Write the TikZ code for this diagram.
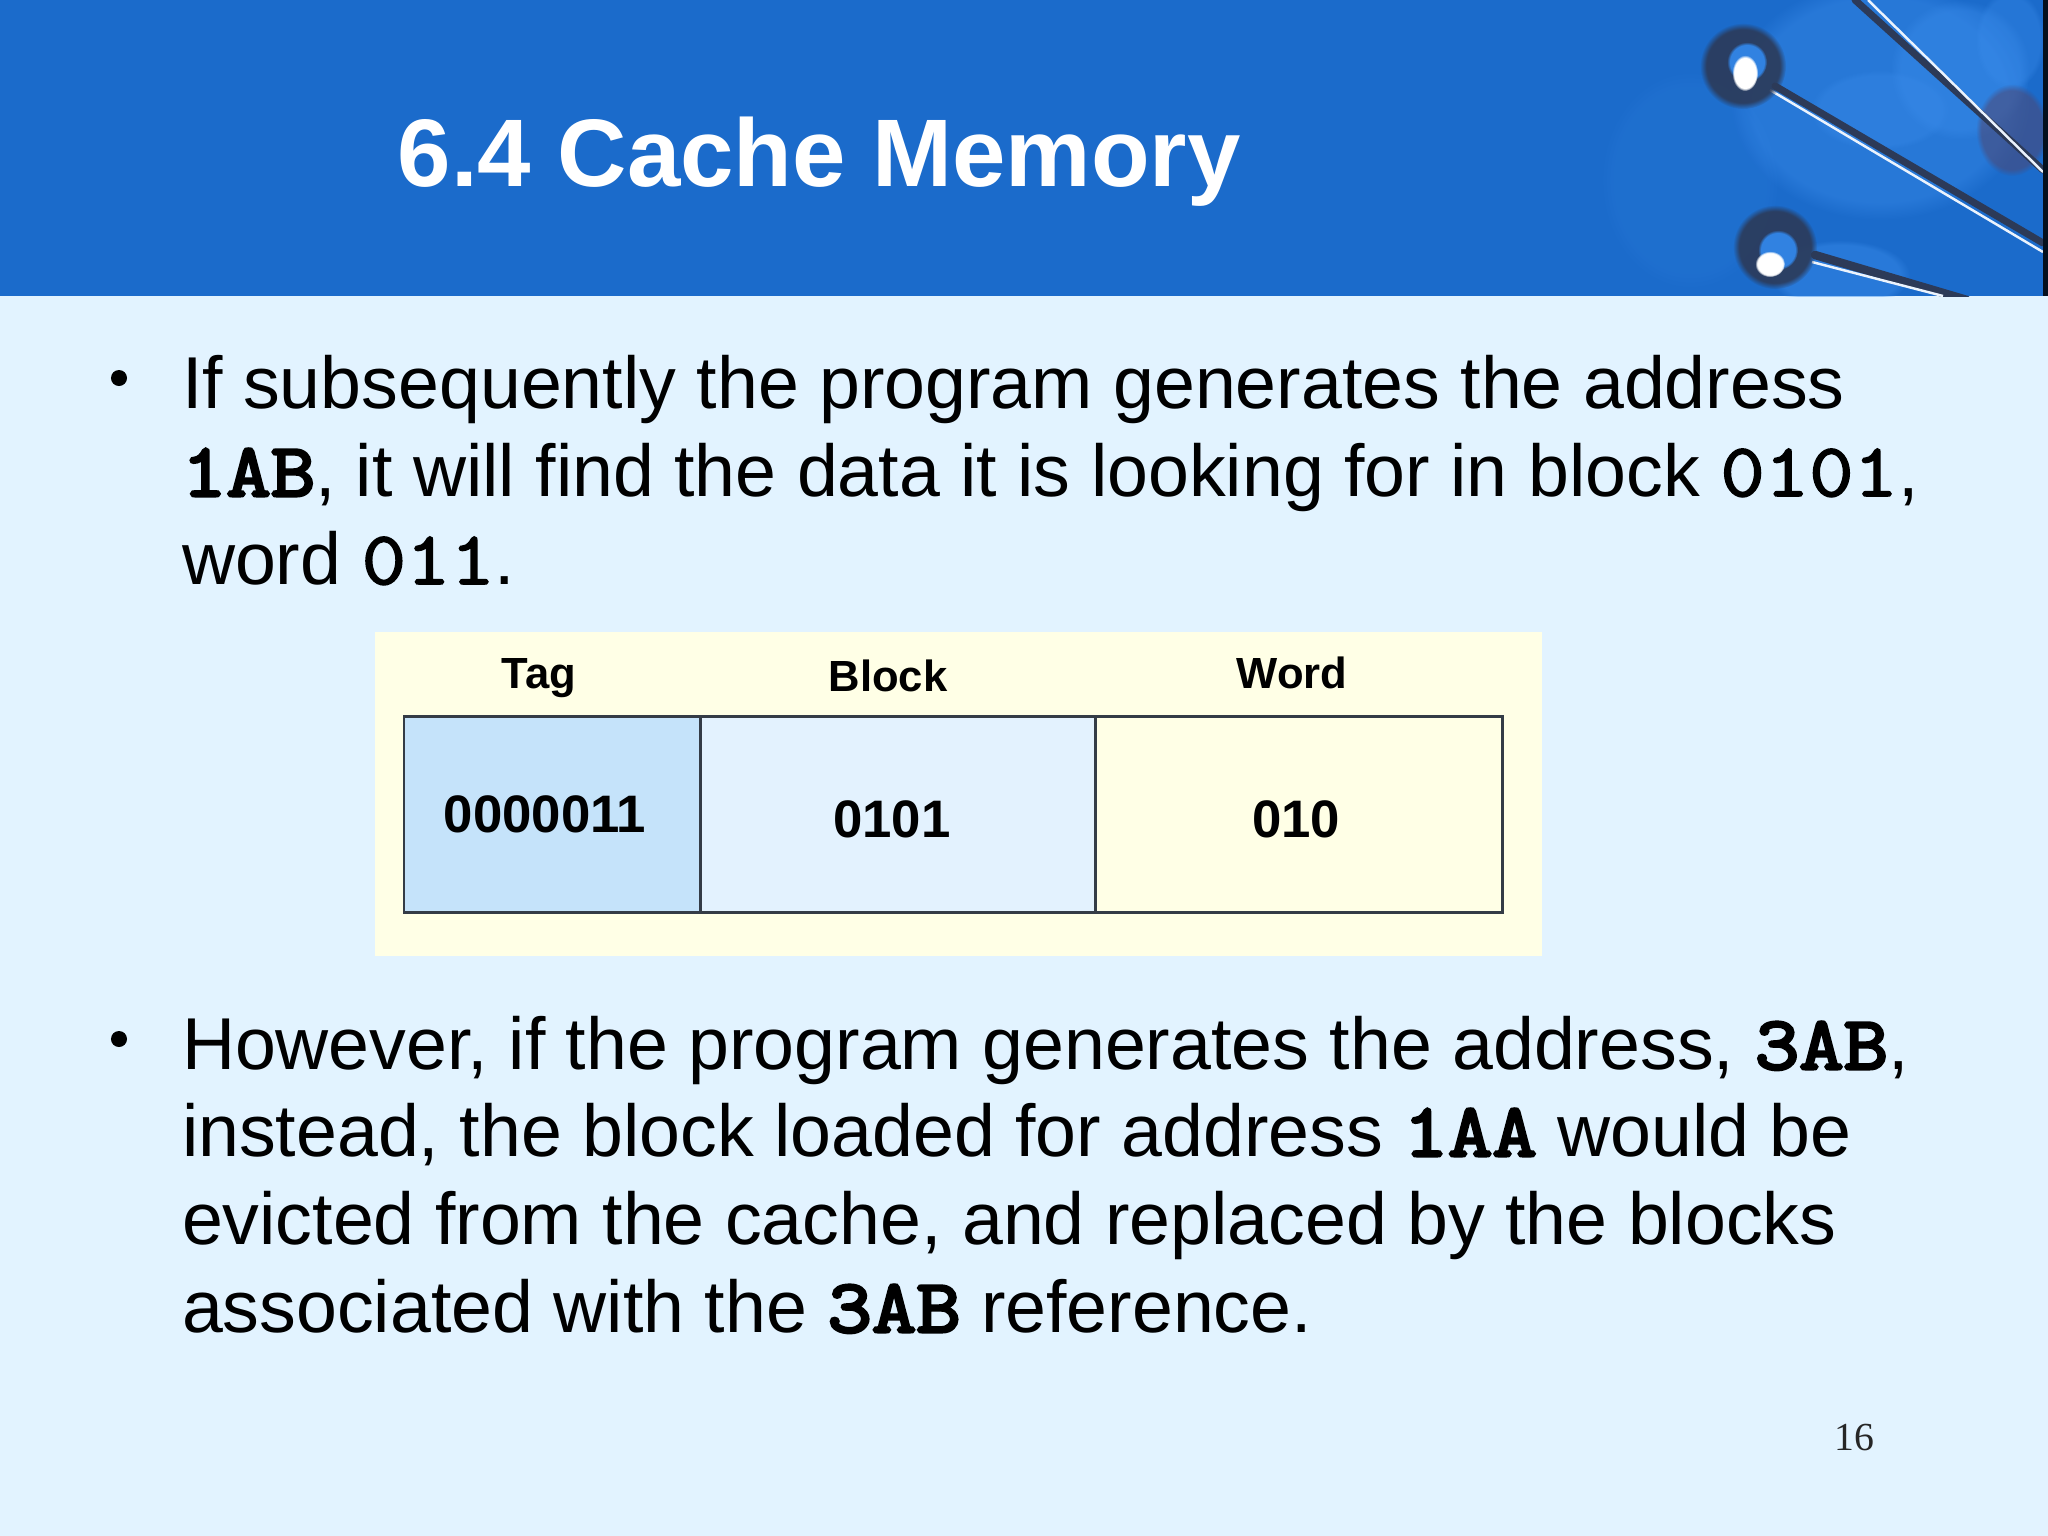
\documentclass[tikz,border=0pt]{standalone}
\usepackage{fontspec}
\setmainfont{Liberation Sans}
\newfontfamily\pagenumfont{Liberation Serif}
\newfontfamily\cdfont[FakeStretch=1.14,FakeBold=4]{Latin Modern Mono}
\newfontfamily\cdlightfont[FakeStretch=1.14,FakeBold=2.2]{Latin Modern Mono}
\usetikzlibrary{shadings,fadings}
\definecolor{pagebg}{HTML}{E2F3FF}
\definecolor{headblue}{HTML}{1B6BCB}
\definecolor{headlight}{HTML}{3A8CEB}
\definecolor{panelyellow}{HTML}{FFFFE6}
\definecolor{tagblue}{HTML}{C5E3FA}
\definecolor{blockblue}{HTML}{E3F2FE}
\definecolor{cellline}{HTML}{343C46}
\definecolor{pindark}{HTML}{2C3A58}
\definecolor{pinred}{HTML}{4F4670}
\newcommand{\cd}[1]{{\cdfont\fontsize{21.5pt}{26pt}\selectfont #1}}
\newcommand{\cdl}[1]{{\cdlightfont\fontsize{21.5pt}{26pt}\selectfont #1}}
\tikzset{
  x=0.01cm,y=-0.01cm,
  bodyline/.style={anchor=base west,inner sep=0pt,outer sep=0pt,text=black,font=\fontsize{20.9pt}{25pt}\selectfont},
  bulletmark/.style={circle,fill=black,inner sep=0pt,minimum size=0.16cm},
  headlabel/.style={anchor=base,inner sep=0pt,text=black,font=\fontsize{12.4pt}{14pt}\selectfont\bfseries},
  valuelabel/.style={anchor=base,inner sep=0pt,text=black,font=\fontsize{15pt}{18pt}\selectfont\bfseries},
  cellbox/.style={draw=cellline,line width=0.85pt,anchor=north west,inner sep=0pt,outer sep=0pt,minimum height=1.96cm},
  pinwhite/.style={draw=white!90!headlight,line width=0.7pt},
  pinshade/.style={draw=pindark,line width=2pt,line cap=round},
  blotch/.style={path fading=circle with fuzzy edge 15 percent},
}
\begin{document}
\begin{tikzpicture}
\useasboundingbox (0,0) rectangle (2048,1536);
\fill[pagebg] (0,0) rectangle (2048,1536);
% header
\fill[headblue] (0,0) rectangle (2048,296);
\begin{scope}
\clip (0,0) rectangle (2048,296);
\foreach \cx/\cy/\rx/\ry/\op in {1880/100/150/120/0.4,1880/110/70/40/0.35,1840/275/70/35/0.45,1960/70/70/70/0.4,2010/40/35/50/0.35,1690/180/90/110/0.12}{
  \fill[headlight,opacity=\op,blotch] (\cx,\cy) ellipse [x radius=\rx*0.01cm,y radius=\ry*0.01cm];
}
\fill[pinred,opacity=0.55,blotch] (2012,130) ellipse [x radius=0.36cm,y radius=0.46cm];
% pin shafts
\draw[pinshade] (1855,0) -- (2043,170);
\draw[pinwhite] (1868,0) -- (2043,172);
\draw[pinshade] (1775,86) -- (2043,243);
\draw[pinwhite] (1770,90) -- (2043,252);
\draw[pinshade,line width=2.4pt] (1815,255) -- (1967,300);
\draw[pinwhite] (1812,262) -- (1943,296);
\end{scope}
% pin heads
\fill[pindark,opacity=0.9,blotch] (1743,66) circle [radius=0.43cm];
\fill[headlight!70!headblue,blotch] (1747,62) circle [radius=0.2cm];
\fill[white,blotch] (1745,73) ellipse [x radius=0.13cm,y radius=0.18cm];
\fill[pindark,opacity=0.9,blotch] (1775,247) circle [radius=0.42cm];
\fill[headlight!70!headblue,blotch] (1778,250) circle [radius=0.2cm];
\fill[white,blotch] (1770,264) ellipse [x radius=0.15cm,y radius=0.13cm];
\fill[black!85!headblue] (2043,0) rectangle (2048,296);
\node[anchor=base west,inner sep=0pt,text=white,font=\fontsize{27.3pt}{32pt}\selectfont\bfseries] (title) at (397,186) {6.4 Cache Memory};
% first bullet
\node[bulletmark] (b1) at (119,378) {};
\node[bodyline] (l1) at (182,408) {If subsequently the program generates the address};
\node[bodyline] (l2) at (182,496) {\cd{1AB}, it will find the data it is looking for in block \cdl{0101},};
\node[bodyline] (l3) at (182,584) {word \cdl{011}.};
% panel
\fill[panelyellow] (375,632) rectangle (1542,956);
\node[cellbox,fill=tagblue,minimum width=2.96cm] (tagcell) at (404,716) {};
\node[cellbox,fill=blockblue,minimum width=3.95cm] (blockcell) at (700,716) {};
\node[cellbox,fill=panelyellow,minimum width=4.07cm] (wordcell) at (1095,716) {};
\node[headlabel] (taglabel) at (539,688) {Tag};
\node[headlabel] (blocklabel) at (888,691) {Block};
\node[headlabel] (wordlabel) at (1292,688) {Word};
\node[valuelabel] (tagvalue) at (545,832) {0000011};
\node[valuelabel] (blockvalue) at (892,837) {0101};
\node[valuelabel] (wordvalue) at (1296,837) {010};
% second bullet
\node[bulletmark] (b2) at (119,1039) {};
\node[bodyline] (l4) at (182,1069) {However, if the program generates the address, \cd{3AB},};
\node[bodyline] (l5) at (182,1156) {instead, the block loaded for address \cd{1AA} would be};
\node[bodyline] (l6) at (182,1244) {evicted from the cache, and replaced by the blocks};
\node[bodyline] (l7) at (182,1332) {associated with the \cd{3AB} reference.};
\node[anchor=base east,inner sep=0pt,text=black!85,font=\pagenumfont\fontsize{11.3pt}{13pt}\selectfont] (pagenum) at (1875,1450) {16};
\end{tikzpicture}
\end{document}
